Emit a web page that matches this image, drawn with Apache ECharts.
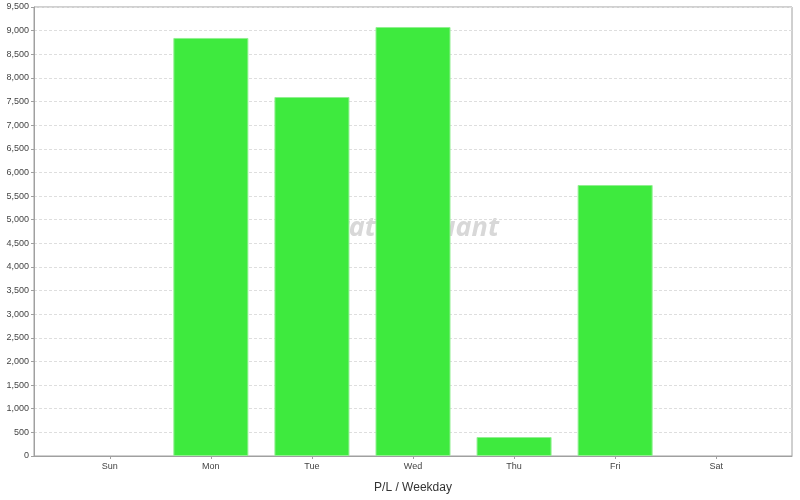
<!DOCTYPE html>
<html><head><meta charset="utf-8">
<script src="https://cdn.jsdelivr.net/npm/echarts@6/dist/echarts.min.js"></script>
<style>html,body{margin:0;padding:0;background:#fff}#c{width:800px;height:500px}</style>
</head><body><div id="c"></div>
<script>
var categories = ['Sun','Mon','Tue','Wed','Thu','Fri','Sat'];
var plValues = [0, 8845, 7596, 9077, 402, 5734, 0];
var yTicks = [0,500,1000,1500,2000,2500,3000,3500,4000,4500,5000,5500,6000,6500,7000,7500,8000,8500,9000,9500];

var chart = echarts.init(document.getElementById('c'), null, {renderer:'canvas'});
var data = plValues.map(function(v,i){
  return v === 0 ? {value:[i,v], itemStyle:{borderWidth:0, opacity:0}} : {value:[i,v]};
});
chart.setOption({
  animation:false,
  backgroundColor:'#fff',
  graphic:[{type:'text', left:312, top:215, z:0, silent:true,
    style:{text:'StrategyQuant', font:'italic bold 27px "Open Sans", sans-serif', fill:'#d8d8d8'}}],
  grid:{left:34, right:8, top:7, bottom:44, show:true, borderColor:'#a0a0a0', borderWidth:1, backgroundColor:'transparent'},
  xAxis:{type:'value', min:-0.75, max:6.75,
    name:'P/L / Weekday', nameLocation:'middle', nameGap:26,
    nameTextStyle:{fontSize:12, color:'#333', fontFamily:'Liberation Sans, Arial, sans-serif'},
    axisLine:{show:true, onZero:false, lineStyle:{color:'#a0a0a0'}},
    axisTick:{show:true, customValues:[0,1,2,3,4,5,6], length:3, lineStyle:{color:'#a0a0a0'}},
    axisLabel:{customValues:[0,1,2,3,4,5,6], formatter:function(v){return categories[Math.round(v)];}, fontSize:9, color:'#444', margin:6, fontFamily:'Liberation Sans, Arial, sans-serif'},
    splitLine:{show:false}},
  yAxis:{type:'value', min:0, max:9500, interval:500,
    axisLine:{show:true, onZero:false, lineStyle:{color:'#a0a0a0'}},
    axisTick:{show:true, length:3, lineStyle:{color:'#a0a0a0'}},
    axisLabel:{fontSize:9, color:'#444', margin:5, fontFamily:'Liberation Sans, Arial, sans-serif',
      formatter:function(v){return v.toLocaleString('en-US');}},
    splitLine:{show:true, lineStyle:{color:'#dedede', type:[3,2]}}},
  series:[{type:'bar', data:data, barWidth:75, z:2,
    itemStyle:{color:'#3eea3e', borderColor:'#90f090', borderWidth:1}}]
});
</script></body></html>
